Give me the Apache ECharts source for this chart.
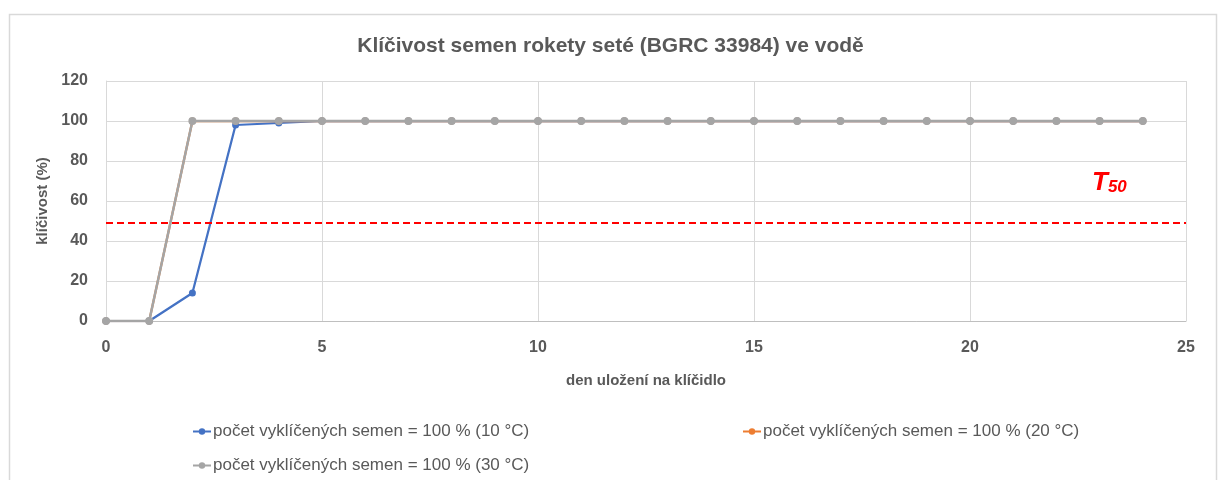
<!DOCTYPE html>
<html><head><meta charset="utf-8">
<script src="https://cdn.jsdelivr.net/npm/echarts@6/dist/echarts.min.js"></script>
<style>html,body{margin:0;padding:0;background:#fff}#c{width:1221px;height:480px}</style>
</head><body><div id="c"></div>
<script>
const days = [0,1,2,3,4,5,6,7,8,9,10,11,12,13,14,15,16,17,18,19,20,21,22,23,24];
const germ10 = [0,0,14,98,99,100,100,100,100,100,100,100,100,100,100,100,100,100,100,100,100,100,100,100,100];
const germ20 = [0,0,100,100,100,100,100,100,100,100,100,100,100,100,100,100,100,100,100,100,100,100,100,100,100];
const germ30 = [0,0,100,100,100,100,100,100,100,100,100,100,100,100,100,100,100,100,100,100,100,100,100,100,100];
const t50 = 49;
const seriesNames = ['počet vyklíčených semen = 100 % (10 °C)','počet vyklíčených semen = 100 % (20 °C)','počet vyklíčených semen = 100 % (30 °C)'];
const title = 'Klíčivost semen rokety seté (BGRC 33984) ve vodě';
const xName = 'den uložení na klíčidlo';
const yName = 'klíčivost (%)';

const FONT = 'Liberation Sans, sans-serif';
const TXT = '#595959';
const pair = (xs, ys) => xs.map((x,i)=>[x, ys[i]]);
const chart = echarts.init(document.getElementById('c'), null, {renderer:'canvas'});
const legendCommon = {orient:'horizontal', itemWidth:18, itemHeight:8, textStyle:{color:TXT, fontSize:17, fontFamily:FONT, padding:[0,0,0,-3]}};
chart.setOption({
  animation:false,
  backgroundColor:'#fff',
  title:{text:title, left:'center', top:31, textStyle:{color:TXT, fontSize:21, fontWeight:'bold', fontFamily:FONT}},
  grid:{left:106, right:35, top:81, bottom:159, containLabel:false},
  xAxis:{type:'value', min:0, max:25, interval:5, name:xName, nameLocation:'middle', nameGap:52,
    nameTextStyle:{color:TXT, fontSize:15, fontWeight:'bold', fontFamily:FONT},
    axisLine:{show:true, lineStyle:{color:'#BFBFBF', width:1}}, axisTick:{show:false},
    axisLabel:{color:TXT, fontSize:16, fontWeight:'bold', fontFamily:FONT, margin:19},
    splitLine:{show:true, lineStyle:{color:'#D9D9D9', width:1}}},
  yAxis:{type:'value', min:0, max:120, interval:20, name:yName, nameLocation:'middle', nameGap:54, nameRotate:90,
    nameTextStyle:{color:TXT, fontSize:15, fontWeight:'bold', fontFamily:FONT},
    axisLine:{show:true, lineStyle:{color:'#D9D9D9'}}, axisTick:{show:false},
    axisLabel:{color:TXT, fontSize:16, fontWeight:'bold', fontFamily:FONT, margin:18},
    splitLine:{show:true, lineStyle:{color:'#D9D9D9', width:1}}},
  legend:[
    Object.assign({data:[seriesNames[0]], left:187, top:418}, legendCommon),
    Object.assign({data:[seriesNames[1]], left:737, top:418}, legendCommon),
    Object.assign({data:[seriesNames[2]], left:187, top:452}, legendCommon)
  ],
  series:[
    {name:seriesNames[0], type:'line', data:pair(days,germ10), symbol:'circle', symbolSize:7,
      lineStyle:{color:'#4472C4', width:2.25}, itemStyle:{color:'#4472C4'}, z:2,
      markLine:{silent:true, symbol:'none', label:{show:false},
        lineStyle:{color:'#FF0000', type:[7,4], width:2}, data:[{yAxis:t50}]}},
    {name:seriesNames[1], type:'line', data:pair(days,germ20), symbol:'circle', symbolSize:7,
      lineStyle:{color:'#ED7D31', width:2.25}, itemStyle:{color:'#ED7D31'}, z:3},
    {name:seriesNames[2], type:'line', data:pair(days,germ30), symbol:'circle', symbolSize:8,
      lineStyle:{color:'#A5A5A5', width:2.5}, itemStyle:{color:'#A5A5A5'}, z:4}
  ],
  graphic:[
    {type:'rect', left:7, top:12, shape:{width:1207, height:480}, style:{fill:'none', stroke:'#D9D9D9', lineWidth:1.5}, silent:true, z:-1},
    {type:'text', left:1092, top:170, style:{text:'{t|T}{s|50}', rich:{
      t:{fill:'#FF0000', fontSize:26, fontWeight:'bold', fontStyle:'italic', fontFamily:FONT, verticalAlign:'bottom'},
      s:{fill:'#FF0000', fontSize:17, fontWeight:'bold', fontStyle:'italic', fontFamily:FONT, padding:[12,0,0,0], verticalAlign:'bottom'}}}}
  ]
});
</script></body></html>
